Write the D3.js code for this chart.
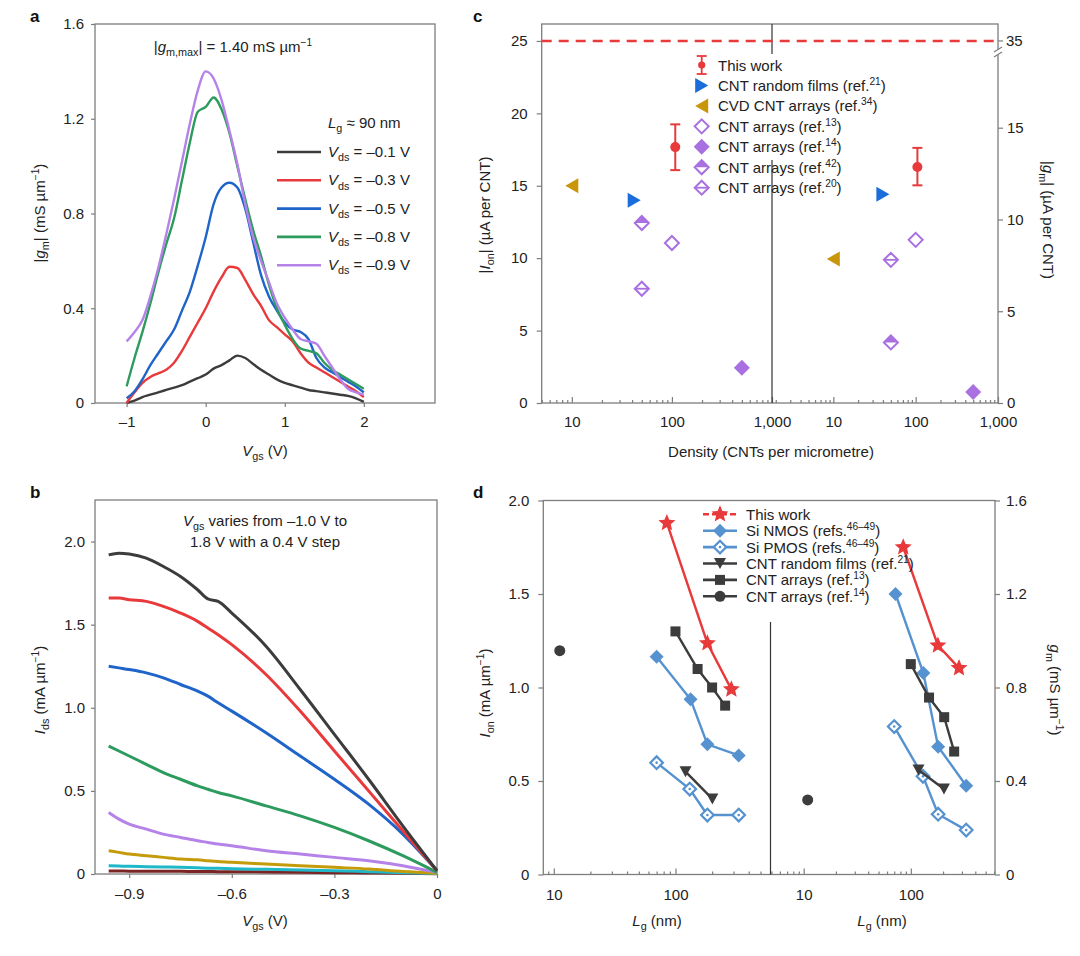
<!DOCTYPE html>
<html><head><meta charset="utf-8">
<script src="https://cdn.jsdelivr.net/npm/d3@7"></script>
<style>
body{margin:0;background:#fff;}
svg{display:block;font-family:"Liberation Sans",Arial,sans-serif;}
</style></head><body>
<svg id="chart" width="1080" height="956"></svg>
<script>
// ================= DATA =================
// Panel a : |gm| vs Vgs
const vgsA = [-1.0,-0.9,-0.8,-0.7,-0.6,-0.5,-0.4,-0.3,-0.2,-0.1,0.0,0.1,0.2,0.3,0.4,0.5,0.6,0.7,0.8,0.9,1.0,1.1,1.2,1.3,1.4,1.5,1.6,1.7,1.8,1.9,2.0];
const gmVds01 = [0.0,0.01,0.025,0.035,0.045,0.055,0.065,0.075,0.09,0.105,0.12,0.145,0.16,0.18,0.20,0.19,0.165,0.14,0.12,0.10,0.085,0.075,0.065,0.055,0.05,0.045,0.04,0.035,0.03,0.02,0.005];
const gmVds03 = [0.0,0.045,0.085,0.11,0.125,0.14,0.17,0.22,0.28,0.34,0.40,0.47,0.53,0.575,0.57,0.52,0.46,0.41,0.35,0.32,0.29,0.26,0.21,0.17,0.15,0.13,0.11,0.09,0.07,0.05,0.025];
const gmVds05 = [0.02,0.05,0.10,0.16,0.21,0.26,0.31,0.39,0.47,0.58,0.70,0.84,0.91,0.93,0.91,0.82,0.68,0.54,0.45,0.39,0.34,0.31,0.30,0.27,0.19,0.15,0.13,0.11,0.09,0.07,0.045];
const gmVds08 = [0.07,0.19,0.30,0.42,0.55,0.67,0.78,0.94,1.10,1.23,1.25,1.29,1.24,1.14,1.00,0.86,0.73,0.62,0.50,0.40,0.33,0.27,0.23,0.22,0.21,0.17,0.14,0.12,0.10,0.08,0.06];
const gmVds09 = [0.26,0.30,0.35,0.45,0.57,0.71,0.86,1.02,1.18,1.32,1.40,1.37,1.28,1.15,1.01,0.84,0.70,0.60,0.51,0.42,0.36,0.31,0.27,0.26,0.25,0.20,0.15,0.10,0.06,0.045,0.035];
const aLegendVds = ['–0.1','–0.3','–0.5','–0.8','–0.9'];
const aXTicks = [-1,0,1,2];
const aXTickLabels = ['–1','0','1','2'];
const aYTicks = [0,0.4,0.8,1.2,1.6];
const aYTickLabels = ['0','0.4','0.8','1.2','1.6'];

// Panel b : Ids vs V
const vdsB = [-0.96,-0.93,-0.9,-0.85,-0.8,-0.75,-0.7,-0.67,-0.64,-0.6,-0.5,-0.4,-0.3,-0.2,-0.1,0];
const idsVgsM10 = [1.92,1.93,1.925,1.90,1.85,1.79,1.71,1.655,1.64,1.57,1.37,1.11,0.84,0.57,0.29,0.02];
const idsVgsM06 = [1.66,1.66,1.65,1.64,1.61,1.57,1.52,1.48,1.44,1.38,1.20,0.98,0.74,0.50,0.26,0.02];
const idsVgsM02 = [1.25,1.24,1.23,1.21,1.18,1.14,1.10,1.07,1.03,0.98,0.85,0.71,0.57,0.42,0.24,0.02];
const idsVgsP02 = [0.77,0.74,0.71,0.66,0.61,0.57,0.53,0.51,0.49,0.47,0.41,0.35,0.28,0.20,0.11,0.01];
const idsVgsP06 = [0.37,0.33,0.30,0.27,0.24,0.22,0.20,0.19,0.18,0.17,0.14,0.12,0.10,0.08,0.05,0.01];
const idsVgsP10 = [0.14,0.13,0.12,0.11,0.10,0.09,0.085,0.08,0.075,0.07,0.06,0.05,0.04,0.03,0.015,0.005];
const idsVgsP14 = [0.05,0.048,0.046,0.044,0.042,0.04,0.037,0.035,0.034,0.032,0.028,0.024,0.02,0.014,0.008,0.003];
const idsVgsP18 = [0.018,0.018,0.017,0.017,0.016,0.016,0.015,0.015,0.014,0.014,0.012,0.01,0.008,0.006,0.004,0.001];
const bXTicks = [-0.9,-0.6,-0.3,0];
const bXTickLabels = ['–0.9','–0.6','–0.3','0'];
const bYTicks = [0,0.5,1.0,1.5,2.0];
const bYTickLabels = ['0','0.5','1.0','1.5','2.0'];

// Panel c : per-CNT performance vs density (order: this work, random films, CVD, ref13, ref14, ref42, ref20)
const cLegendNames = ['This work','CNT random films (ref.','CVD CNT arrays (ref.','CNT arrays (ref.','CNT arrays (ref.','CNT arrays (ref.','CNT arrays (ref.'];
const cLegendRefs = ['','21','34','13','14','42','20'];
const ionDensity = [108, 42, 10, 100, 500, 50, 50];
const ionValue   = [17.67, 14.0, 15.0, 11.05, 2.44, 12.43, 7.89];
const ionErrLo   = [16.08];
const ionErrHi   = [19.24];
const gmDensity  = [105, 40, 10, 100, 500, 50, 50];
const gmValue    = [12.86, 11.38, 7.85, 8.89, 0.6, 3.3, 7.8];
const gmErrLo    = [11.86];
const gmErrHi    = [13.9];
const cRefLineIon = 25;
const cYTicksL = [0,5,10,15,20,25];
const cYTicksR = [0,5,10,15];
const cXMajor = [10,100,1000];
const cXMajorLabels = ['10','100','1,000'];

// Panel d : Ion / gm vs Lg
const dLegendNames = ['This work','Si NMOS (refs.','Si PMOS (refs.','CNT random films (ref.','CNT arrays (ref.','CNT arrays (ref.'];
const dLegendRefs = ['','46–49','46–49','21','13','14'];
const lgStarL = [85,183,288],      ionStar = [1.88,1.237,0.99];
const lgNmosL = [70,133,183,331],  ionNmos = [1.165,0.937,0.696,0.637];
const lgPmosL = [70,131,183,331],  ionPmos = [0.598,0.457,0.318,0.318];
const lgRandL = [121,201],         ionRand = [0.55,0.404];
const lgSqL   = [100,152,200,256], ionSq   = [1.30,1.099,1.0,0.903];
const lgCircL = [11.2],            ionCirc = [1.197];
const lgStarR = [85,179,282],      gmStar  = [1.40,0.98,0.883];
const lgNmosR = [72,131,180,329],  gmNmos  = [1.20,0.862,0.547,0.38];
const lgPmosR = [70,130,180,329],  gmPmos  = [0.633,0.42,0.258,0.19];
const lgRandR = [118,204],         gmRand  = [0.447,0.366];
const lgSqR   = [100,148,205,254], gmSq    = [0.90,0.757,0.673,0.526];
const lgCircR = [10.9],            gmCirc  = [0.319];
const dYTicksL = [0,0.5,1.0,1.5,2.0];
const dYTickLabelsL = ['0','0.5','1.0','1.5','2.0'];
const dYTicksR = [0,0.4,0.8,1.2,1.6];
const dYTickLabelsR = ['0','0.4','0.8','1.2','1.6'];
const dXMajor = [10,100];
const dXMajorLabels = ['10','100'];

// ================= DRAWING =================
const svg = d3.select('#chart');
const FS = 15, AX = '#7d7d7d', TXT = '#222';
const C = {k:'#3c3c3c', r:'#e8393b', b:'#1f64c8', g:'#2e9b5e', p:'#b583e8', y:'#c49b0a', c:'#1fb8c8', br:'#7a2424',
           triB:'#1a6ddb', triY:'#c8960a', pu:'#a870e0', si:'#5592cf', dk:'#3c3c3c'};

function rich(t, parts, fs){
  let shift = 0;
  parts.forEach(p => {
    const o = typeof p === 'string' ? {t:p} : p;
    const ts = t.append('tspan').text(o.t);
    let target = 0, size = fs;
    if (o.sub){ target = fs*0.28; size = fs*0.72; }
    if (o.sup){ target = -fs*0.4; size = fs*0.68; }
    if (o.i) ts.attr('font-style','italic');
    ts.attr('font-size', size);
    if (target !== shift){ ts.attr('dy', target - shift); shift = target; }
  });
  return t;
}
function label(x, y, parts, opts={}){
  const t = svg.append('text').attr('x',x).attr('y',y).attr('fill',TXT).attr('font-size',opts.fs||FS)
    .attr('text-anchor',opts.anchor||'start');
  if (opts.rot) t.attr('transform',`rotate(${opts.rot},${x},${y})`);
  return rich(t, parts, opts.fs||FS);
}
function styleAxis(g){
  g.attr('font-family',null).attr('font-size',FS);
  g.select('.domain').remove();
  g.selectAll('.tick line').attr('stroke',AX).attr('stroke-width',1.2);
  g.selectAll('.tick text').attr('fill',TXT).attr('font-size',FS);
}
function frame(x0,y0,x1,y1){
  svg.append('rect').attr('x',x0).attr('y',y0).attr('width',x1-x0).attr('height',y1-y0)
    .attr('fill','none').attr('stroke',AX).attr('stroke-width',1.3);
}
function panelLetter(x,y,s){ svg.append('text').attr('x',x).attr('y',y).attr('font-weight','bold').attr('font-size',17).attr('fill','#111').text(s); }
const diamond = h => `M0,${-h}L${h},0L0,${h}L${-h},0Z`;
const halfTop = h => `M0,${-h}L${h},0L${-h},0Z`;
const triRight = (w,h) => `M${w/2},0L${-w/2},${-h/2}L${-w/2},${h/2}Z`;
const triLeft = (w,h) => `M${-w/2},0L${w/2},${-h/2}L${w/2},${h/2}Z`;
const triDown = (w,h) => `M${-w/2},${-h/2}L${w/2},${-h/2}L0,${h/2}Z`;
function starPath(R){ const r=R*0.45; let p=''; for(let k=0;k<10;k++){ const a=-Math.PI/2+k*Math.PI/5, rr=k%2?r:R; p+=(k?'L':'M')+(rr*Math.cos(a)).toFixed(2)+','+(rr*Math.sin(a)).toFixed(2);} return p+'Z'; }
const minorLog = (lo,hi) => { const out=[]; for(let e=0;e<4;e++) for(let m=2;m<=9;m++){ const v=m*Math.pow(10,e); if(v>=lo&&v<=hi) out.push(v);} return out; };

// ---------- Panel a ----------
{
  const x = d3.scaleLinear().domain([-1.4,2.9]).range([95,435]);
  const y = d3.scaleLinear().domain([0,1.6]).range([403,24]);
  frame(95,24,435,403);
  svg.append('g').attr('transform','translate(0,403)')
    .call(d3.axisBottom(x).tickValues(aXTicks).tickSize(4).tickPadding(9).tickFormat((d,i)=>aXTickLabels[i])).call(styleAxis);
  svg.append('g').attr('transform','translate(95,0)')
    .call(d3.axisLeft(y).tickValues(aYTicks).tickSize(4).tickPadding(7).tickFormat((d,i)=>aYTickLabels[i])).call(styleAxis);
  const series = [gmVds01,gmVds03,gmVds05,gmVds08,gmVds09];
  const cols = [C.k,C.r,C.b,C.g,C.p];
  const line = d3.line().x((d,i)=>x(vgsA[i])).y(d=>y(d)).curve(d3.curveMonotoneX);
  series.forEach((s,k)=> svg.append('path').attr('d',line(s)).attr('fill','none').attr('stroke',cols[k]).attr('stroke-width',2.4));
  label(233,52,['|',{t:'g',i:1},{t:'m,max',sub:1},'| = 1.40 mS µm',{t:'−1',sup:1}],{anchor:'middle'});
  label(328,128,[{t:'L',i:1},{t:'g',sub:1},' ≈ 90 nm']);
  aLegendVds.forEach((v,k)=>{
    const yy = 152 + k*28.3;
    svg.append('line').attr('x1',277).attr('x2',321).attr('y1',yy).attr('y2',yy).attr('stroke',cols[k]).attr('stroke-width',2.6);
    label(328,yy+5,[{t:'V',i:1},{t:'ds',sub:1},' = '+v+' V']);
  });
  label(45,213,['|',{t:'g',i:1},{t:'m',sub:1},'| (mS µm',{t:'−1',sup:1},')'],{anchor:'middle',rot:-90});
  label(265,456,[{t:'V',i:1},{t:'gs',sub:1},' (V)'],{anchor:'middle'});
  panelLetter(30,22,'a');
}

// ---------- Panel b ----------
{
  const x = d3.scaleLinear().domain([-1.0,0]).range([95,437]);
  const y = d3.scaleLinear().domain([0,2.25]).range([874,500]);
  frame(95,500,437,874);
  svg.append('g').attr('transform','translate(0,874)')
    .call(d3.axisBottom(x).tickValues(bXTicks).tickSize(4).tickPadding(10).tickFormat((d,i)=>bXTickLabels[i])).call(styleAxis);
  svg.append('g').attr('transform','translate(95,0)')
    .call(d3.axisLeft(y).tickValues(bYTicks).tickSize(4).tickPadding(6).tickFormat((d,i)=>bYTickLabels[i])).call(styleAxis);
  const series = [idsVgsP18,idsVgsP14,idsVgsP10,idsVgsP06,idsVgsP02,idsVgsM02,idsVgsM06,idsVgsM10];
  const cols = [C.br,C.c,C.y,C.p,C.g,C.b,C.r,C.k];
  const line = d3.line().x((d,i)=>x(vdsB[i])).y(d=>y(d)).curve(d3.curveMonotoneX);
  series.forEach((s,k)=> svg.append('path').attr('d',line(s)).attr('fill','none').attr('stroke',cols[k]).attr('stroke-width',3));
  label(265,526,[{t:'V',i:1},{t:'gs',sub:1},' varies from –1.0 V to'],{anchor:'middle'});
  label(265,547,['1.8 V with a 0.4 V step'],{anchor:'middle'});
  label(45,690,[{t:'I',i:1},{t:'ds',sub:1},' (mA µm',{t:'−1',sup:1},')'],{anchor:'middle',rot:-90});
  label(265,926,[{t:'V',i:1},{t:'gs',sub:1},' (V)'],{anchor:'middle'});
  panelLetter(30,498,'b');
}

// ---------- Panel c ----------
{
  const L=541.7, M=772, R=998, T=24, B=403;
  const y = d3.scaleLinear().domain([0,26.17]).range([B,T]);
  const yR = d3.scaleLinear().domain([0,20.65]).range([B,T]);
  const xL = d3.scaleLog().domain([5,1000]).range([L,M]);
  const xR = d3.scaleLog().domain([1.8,1000]).range([M,R]);
  frame(L,T,R,B);
  [[xL,5,1000],[xR,1.8,1000]].forEach(([sc,lo,hi])=>{
    svg.append('g').attr('transform',`translate(0,${B})`)
      .call(d3.axisBottom(sc).tickValues(minorLog(lo,hi)).tickSize(-3).tickFormat('')).call(styleAxis);
    svg.append('g').attr('transform',`translate(0,${B})`)
      .call(d3.axisBottom(sc).tickValues(cXMajor).tickSize(-6).tickPadding(13).tickFormat((d,i)=>cXMajorLabels[i])).call(styleAxis);
  });
  svg.append('g').attr('transform',`translate(${L},0)`)
    .call(d3.axisLeft(y).tickValues(cYTicksL).tickSize(5).tickPadding(9)).call(styleAxis);
  svg.append('g').attr('transform',`translate(${R},0)`)
    .call(d3.axisRight(yR).tickValues(cYTicksR).tickSize(5).tickPadding(4)).call(styleAxis);
  // "35" tick at the dashed line (broken right axis)
  svg.append('line').attr('x1',R).attr('x2',R+5).attr('y1',y(cRefLineIon)).attr('y2',y(cRefLineIon)).attr('stroke',AX).attr('stroke-width',1.2);
  svg.append('text').attr('x',R+8).attr('y',y(cRefLineIon)+5).attr('font-size',FS).attr('fill',TXT).text('35');
  svg.append('rect').attr('x',R-3).attr('y',49).attr('width',6).attr('height',6).attr('fill','#fff');
  [[R-4,52,R+4,47],[R-4,57,R+4,52]].forEach(a=> svg.append('line').attr('x1',a[0]).attr('y1',a[1]).attr('x2',a[2]).attr('y2',a[3]).attr('stroke',AX).attr('stroke-width',1.2));
  // divider
  svg.append('line').attr('x1',M).attr('x2',M).attr('y1',T).attr('y2',B).attr('stroke','#333').attr('stroke-width',1.2);
  // dashed reference
  svg.append('line').attr('x1',L).attr('x2',R).attr('y1',y(cRefLineIon)).attr('y2',y(cRefLineIon))
    .attr('stroke',C.r).attr('stroke-width',2.6).attr('stroke-dasharray','10,7');
  // legend background
  svg.append('rect').attr('x',690).attr('y',54).attr('width',200).attr('height',106).attr('fill','#fff');
  const types = ['err','triR','triL','open','fill','half','line'];
  const colsC = [C.r,C.triB,C.triY,C.pu,C.pu,C.pu,C.pu];
  function marker(type,cx,cy,col,small){
    const m = svg.append('g').attr('transform',`translate(${cx},${cy})`);
    if(type==='triR') m.append('path').attr('d',triRight(13,15)).attr('fill',col);
    else if(type==='triL') m.append('path').attr('d',triLeft(13,15)).attr('fill',col);
    else if(type==='open') m.append('path').attr('d',diamond(7)).attr('fill','#fff').attr('stroke',col).attr('stroke-width',2);
    else if(type==='fill') m.append('path').attr('d',diamond(8)).attr('fill',col);
    else if(type==='half'){ m.append('path').attr('d',diamond(7)).attr('fill','#fff').attr('stroke',col).attr('stroke-width',2);
      m.append('path').attr('d',halfTop(7)).attr('fill',col); }
    else if(type==='line'){ m.append('path').attr('d',diamond(7)).attr('fill','#fff').attr('stroke',col).attr('stroke-width',2);
      m.append('line').attr('x1',-7).attr('x2',7).attr('stroke',col).attr('stroke-width',1.8); }
    else if(type==='err' && small){
      m.append('line').attr('y1',-9).attr('y2',9).attr('stroke',col).attr('stroke-width',1.8);
      [-9,9].forEach(v=>m.append('line').attr('x1',-5).attr('x2',5).attr('y1',v).attr('y2',v).attr('stroke',col).attr('stroke-width',1.8));
      m.append('circle').attr('r',3.6).attr('fill',col);
    }
  }
  function errPoint(cx,cyv,lo,hi,sc){
    const g = svg.append('g');
    g.append('line').attr('x1',cx).attr('x2',cx).attr('y1',sc(lo)).attr('y2',sc(hi)).attr('stroke',C.r).attr('stroke-width',2);
    [lo,hi].forEach(v=>g.append('line').attr('x1',cx-5).attr('x2',cx+5).attr('y1',sc(v)).attr('y2',sc(v)).attr('stroke',C.r).attr('stroke-width',2));
    g.append('circle').attr('cx',cx).attr('cy',sc(cyv)).attr('r',5).attr('fill',C.r);
  }
  ionDensity.forEach((d,i)=>{
    if(types[i]==='err') errPoint(xL(d),ionValue[i],ionErrLo[0],ionErrHi[0],y);
    else marker(types[i],xL(d),y(ionValue[i]),colsC[i]);
  });
  gmDensity.forEach((d,i)=>{
    if(types[i]==='err') errPoint(xR(d),gmValue[i],gmErrLo[0],gmErrHi[0],yR);
    else marker(types[i],xR(d),yR(gmValue[i]),colsC[i]);
  });
  cLegendNames.forEach((n,i)=>{
    const yy = 65 + i*20.45;
    marker(types[i],701.7,yy,colsC[i],true);
    const parts=[n]; if(cLegendRefs[i]){ parts.push({t:cLegendRefs[i],sup:1}); parts.push(')'); }
    label(718,yy+5.5,parts);
  });
  label(490,215,['|',{t:'I',i:1},{t:'on',sub:1},'| (µA per CNT)'],{anchor:'middle',rot:-90});
  label(1043,220,['|',{t:'g',i:1},{t:'m',sub:1},'| (µA per CNT)'],{anchor:'middle',rot:90});
  label(771,457,['Density (CNTs per micrometre)'],{anchor:'middle'});
  panelLetter(473,22,'c');
}

// ---------- Panel d ----------
{
  const L=543.3, M=770.5, R=995, T=500.5, B=874.5;
  const y = d3.scaleLinear().domain([0,2.0]).range([B,T]);
  const yR = d3.scaleLinear().domain([0,1.6]).range([B,T]);
  const xL = d3.scaleLog().domain([8.2,604]).range([L,M]);
  const xR = d3.scaleLog().domain([4.9,611]).range([M,R]);
  frame(L,T,R,B);
  [[xL,8.2,604],[xR,4.9,611]].forEach(([sc,lo,hi])=>{
    svg.append('g').attr('transform',`translate(0,${B})`)
      .call(d3.axisBottom(sc).tickValues(minorLog(lo,hi)).tickSize(-3).tickFormat('')).call(styleAxis);
    svg.append('g').attr('transform',`translate(0,${B})`)
      .call(d3.axisBottom(sc).tickValues(dXMajor).tickSize(-6).tickPadding(15).tickFormat((d,i)=>dXMajorLabels[i])).call(styleAxis);
  });
  svg.append('g').attr('transform',`translate(${L},0)`)
    .call(d3.axisLeft(y).tickValues(dYTicksL).tickSize(5).tickPadding(9).tickFormat((d,i)=>dYTickLabelsL[i])).call(styleAxis);
  svg.append('g').attr('transform',`translate(${R},0)`)
    .call(d3.axisRight(yR).tickValues(dYTicksR).tickSize(5).tickPadding(6).tickFormat((d,i)=>dYTickLabelsR[i])).call(styleAxis);
  svg.append('line').attr('x1',M).attr('x2',M).attr('y1',622).attr('y2',B).attr('stroke','#333').attr('stroke-width',1.2);

  const mk = {
    star:(g,col)=>g.append('path').attr('d',starPath(9)).attr('fill',col),
    nmos:(g,col)=>g.append('path').attr('d',diamond(7)).attr('fill',col),
    pmos:(g,col)=>{ g.append('path').attr('d',diamond(6.3)).attr('fill','#fff').attr('stroke',col).attr('stroke-width',2.2); g.append('circle').attr('r',1.3).attr('fill',col); },
    rand:(g,col)=>g.append('path').attr('d',triDown(12,11)).attr('fill',col),
    sq:(g,col)=>g.append('rect').attr('x',-5).attr('y',-5).attr('width',10).attr('height',10).attr('fill',col),
    circ:(g,col)=>g.append('circle').attr('r',5.5).attr('fill',col)
  };
  function series(xs,vs,xsc,ysc,type,col){
    if(xs.length>1){
      const ln = d3.line().x((d,i)=>xsc(xs[i])).y(d=>ysc(d));
      svg.append('path').attr('d',ln(vs)).attr('fill','none').attr('stroke',col).attr('stroke-width',2.4);
    }
    vs.forEach((v,i)=>{ const g=svg.append('g').attr('transform',`translate(${xsc(xs[i])},${ysc(v)})`); mk[type](g,col); });
  }
  series(lgPmosL,ionPmos,xL,y,'pmos',C.si);
  series(lgNmosL,ionNmos,xL,y,'nmos',C.si);
  series(lgRandL,ionRand,xL,y,'rand',C.dk);
  series(lgSqL,ionSq,xL,y,'sq',C.dk);
  series(lgCircL,ionCirc,xL,y,'circ',C.dk);
  series(lgStarL,ionStar,xL,y,'star',C.r);
  series(lgPmosR,gmPmos,xR,yR,'pmos',C.si);
  series(lgNmosR,gmNmos,xR,yR,'nmos',C.si);
  series(lgRandR,gmRand,xR,yR,'rand',C.dk);
  series(lgSqR,gmSq,xR,yR,'sq',C.dk);
  series(lgCircR,gmCirc,xR,yR,'circ',C.dk);
  series(lgStarR,gmStar,xR,yR,'star',C.r);

  const lt = ['star','nmos','pmos','rand','sq','circ'];
  const lc = [C.r,C.si,C.si,C.dk,C.dk,C.dk];
  dLegendNames.forEach((n,i)=>{
    const yy = 514.3 + i*16.4;
    svg.append('line').attr('x1',703).attr('x2',737).attr('y1',yy).attr('y2',yy).attr('stroke',lc[i]).attr('stroke-width',2.6)
      .attr('stroke-dasharray', i===0?'6,3':null);
    const g = svg.append('g').attr('transform',`translate(720,${yy})`); mk[lt[i]](g,lc[i]);
    const parts=[n]; if(dLegendRefs[i]){ parts.push({t:dLegendRefs[i],sup:1}); parts.push(')'); }
    label(746,yy+5.5,parts);
  });
  label(490,693,[{t:'I',i:1},{t:'on',sub:1},' (mA µm',{t:'−1',sup:1},')'],{anchor:'middle',rot:-90});
  label(1050,690,[{t:'g',i:1},{t:'m',sub:1},' (mS µm',{t:'−1',sup:1},')'],{anchor:'middle',rot:90});
  label(657,926,[{t:'L',i:1},{t:'g',sub:1},' (nm)'],{anchor:'middle'});
  label(882,926,[{t:'L',i:1},{t:'g',sub:1},' (nm)'],{anchor:'middle'});
  panelLetter(473,498,'d');
}
</script>
</body></html>
